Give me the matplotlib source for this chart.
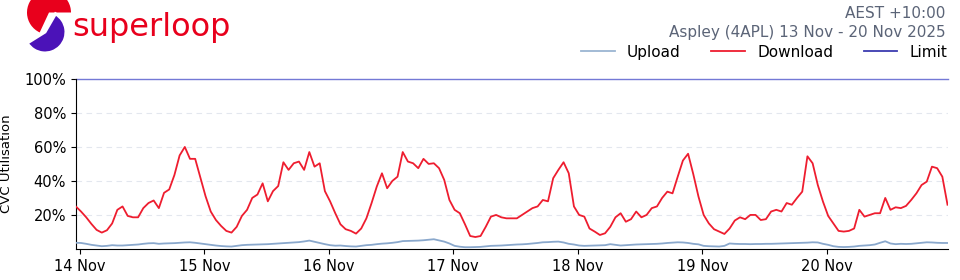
import matplotlib
matplotlib.use('Agg')
import matplotlib.pyplot as plt
import matplotlib.dates as mdates
from matplotlib.patches import Wedge
from matplotlib.lines import Line2D
import pandas as pd

# hourly samples, 13 Nov 23:15 .. 20 Nov 23:15 (AEST), % of CVC
times = pd.date_range('2025-11-13 23:15', periods=169, freq='h')

download = [
    25,
    # 14 Nov
    22, 18.6, 14.7, 11.2, 9.6, 11, 15, 23, 25, 19.4, 18.6, 18.6,
    24, 27, 28.5, 24, 33, 35, 43.5, 55, 60, 53, 53, 42,
    # 15 Nov
    31, 22, 17, 13.5, 10.6, 9.6, 13, 19.4, 23, 30, 32, 38.6,
    28, 34, 37, 51, 46.5, 50.4, 51.4, 46.5, 57, 48.4, 50.4, 34,
    # 16 Nov
    28, 21, 14.5, 11.6, 10.6, 9, 12, 18, 27, 36.7, 44.5, 35.7,
    40, 42.5, 57, 51.4, 50.4, 47.5, 53, 50, 50.4, 47.5, 40.6, 28.8,
    # 17 Nov
    23, 21, 14.5, 7.6, 7, 7.6, 13, 19, 20, 18.6, 18, 18,
    18, 20, 22, 24, 25, 28.8, 28, 41.6, 46.5, 51, 44.5, 25,
    # 18 Nov
    20, 19, 12, 10.2, 8.2, 9.2, 13, 18.6, 21, 16, 17.5, 22,
    18.6, 20, 24, 25, 30, 33.7, 32.7, 42.5, 52, 56, 44, 30.8,
    # 19 Nov
    20, 15, 11.6, 10.2, 8.8, 12, 16.7, 18.6, 17.5, 20, 20, 17,
    17.5, 22, 23, 22, 27, 26, 30, 33.7, 54.5, 50.4, 37.6, 27.8,
    # 20 Nov
    19.4, 15, 10.6, 10.2, 10.6, 12, 23, 19, 20, 21, 21, 30,
    23, 24.5, 24, 25.3, 28.8, 32.7, 37.6, 39.6, 48.4, 47.5, 42.5, 26,
]

upload = [
    3.6,
    3.5, 3.0, 2.4, 2.0, 1.6, 1.8, 2.2, 2.0, 2.0, 2.2, 2.4, 2.6,
    3.0, 3.3, 3.4, 3.0, 3.2, 3.3, 3.4, 3.6, 3.8, 3.9, 3.6, 3.2,
    2.8, 2.4, 2.0, 1.7, 1.5, 1.4, 1.8, 2.2, 2.4, 2.5, 2.6, 2.7,
    2.8, 3.0, 3.2, 3.4, 3.6, 3.8, 4.0, 4.4, 4.9, 4.2, 3.5, 2.8,
    2.2, 1.9, 2.0, 1.7, 1.5, 1.4, 1.8, 2.2, 2.4, 2.8, 3.1, 3.3,
    3.6, 4.0, 4.6, 4.7, 4.8, 4.9, 5.1, 5.4, 5.7, 5.0, 4.3, 3.2,
    1.8, 1.3, 1.0, 1.0, 1.1, 1.2, 1.5, 1.8, 1.9, 2.0, 2.2, 2.4,
    2.6, 2.7, 2.9, 3.2, 3.5, 3.9, 4.0, 4.2, 4.3, 3.8, 3.0, 2.6,
    2.0, 1.8, 1.9, 2.0, 2.1, 2.2, 2.8, 2.4, 2.0, 2.2, 2.4, 2.6,
    2.7, 2.8, 2.9, 3.0, 3.2, 3.5, 3.7, 3.9, 3.8, 3.5, 3.0, 2.7,
    1.8, 1.6, 1.5, 1.4, 1.8, 3.2, 3.0, 2.9, 2.9, 2.8, 2.9, 2.9,
    3.0, 3.0, 3.1, 3.2, 3.3, 3.4, 3.5, 3.6, 3.7, 3.9, 3.8, 3.0,
    2.4, 1.6, 1.2, 1.1, 1.2, 1.4, 1.8, 2.0, 2.2, 2.6, 3.6, 4.5,
    3.2, 2.8, 3.0, 2.9, 3.0, 3.3, 3.6, 3.9, 3.8, 3.6, 3.5, 3.5,
]

limit = 100
yticks = [20, 40, 60, 80, 100]

RED = '#ee1d2f'
UP = '#8aa8cc'
LIM = '#3b3bb0'
GREY = '#5b6477'

fig = plt.figure(figsize=(9.6, 2.8), dpi=100)

# ── logo, drawn in figure pixel coords (y up) ──
lax = fig.add_axes([0, 0, 1, 1], zorder=-1)
lax.set_xlim(0, 960)
lax.set_ylim(0, 280)
lax.axis('off')
lax.add_patch(Wedge((49, 267.5), 22, 0, 245, facecolor='#e8001c', lw=0))
lax.add_patch(Wedge((45, 248), 21, 212, 420, facecolor='#4b12b8',
                    edgecolor='white', lw=2.2))
fig.text(0.075, 0.871, 'superloop', fontsize=23, color='#e8001c',
         ha='left', va='baseline')

fig.text(0.985, 0.978, 'AEST +10:00\nAspley (4APL) 13 Nov - 20 Nov 2025',
         ha='right', va='top', fontsize=11, color=GREY, linespacing=1.3)

# ── main chart ──
ax = fig.add_axes([0.079, 0.111, 0.908, 0.607])
ax.plot(times, upload, color=UP, lw=1.3, zorder=3)
ax.plot(times, download, color=RED, lw=1.3, zorder=4)
ax.axhline(limit, color='#7479d6', lw=1.0, zorder=2, clip_on=False)

ax.set_ylim(0, 100)
ax.set_xlim(times[0], times[-1])
ax.set_yticks(yticks)
ax.set_yticklabels([f'{v}%' for v in yticks])
ax.yaxis.grid(True, linestyle=(0, (5, 4)), color='#e3e7ee', lw=0.8)
ax.set_axisbelow(True)

ax.xaxis.set_major_locator(mdates.DayLocator())
ax.xaxis.set_major_formatter(mdates.DateFormatter('%d %b'))
ax.tick_params(axis='both', labelsize=10.5)
ax.set_ylabel('CVC Utilisation', fontsize=9.5, labelpad=8)

ax.spines['top'].set_visible(False)
ax.spines['right'].set_visible(False)

handles = [Line2D([], [], color='#9bb5d2', lw=1.3),
           Line2D([], [], color=RED, lw=1.3),
           Line2D([], [], color=LIM, lw=1.3)]
fig.legend(handles, ['Upload', 'Download', 'Limit'], loc='center right',
           bbox_to_anchor=(0.987, 0.814), ncol=3, frameon=False,
           fontsize=11, handlelength=2.2, handletextpad=0.8,
           columnspacing=2.0, borderpad=0, borderaxespad=0)

fig.savefig('out.png', dpi=100)
